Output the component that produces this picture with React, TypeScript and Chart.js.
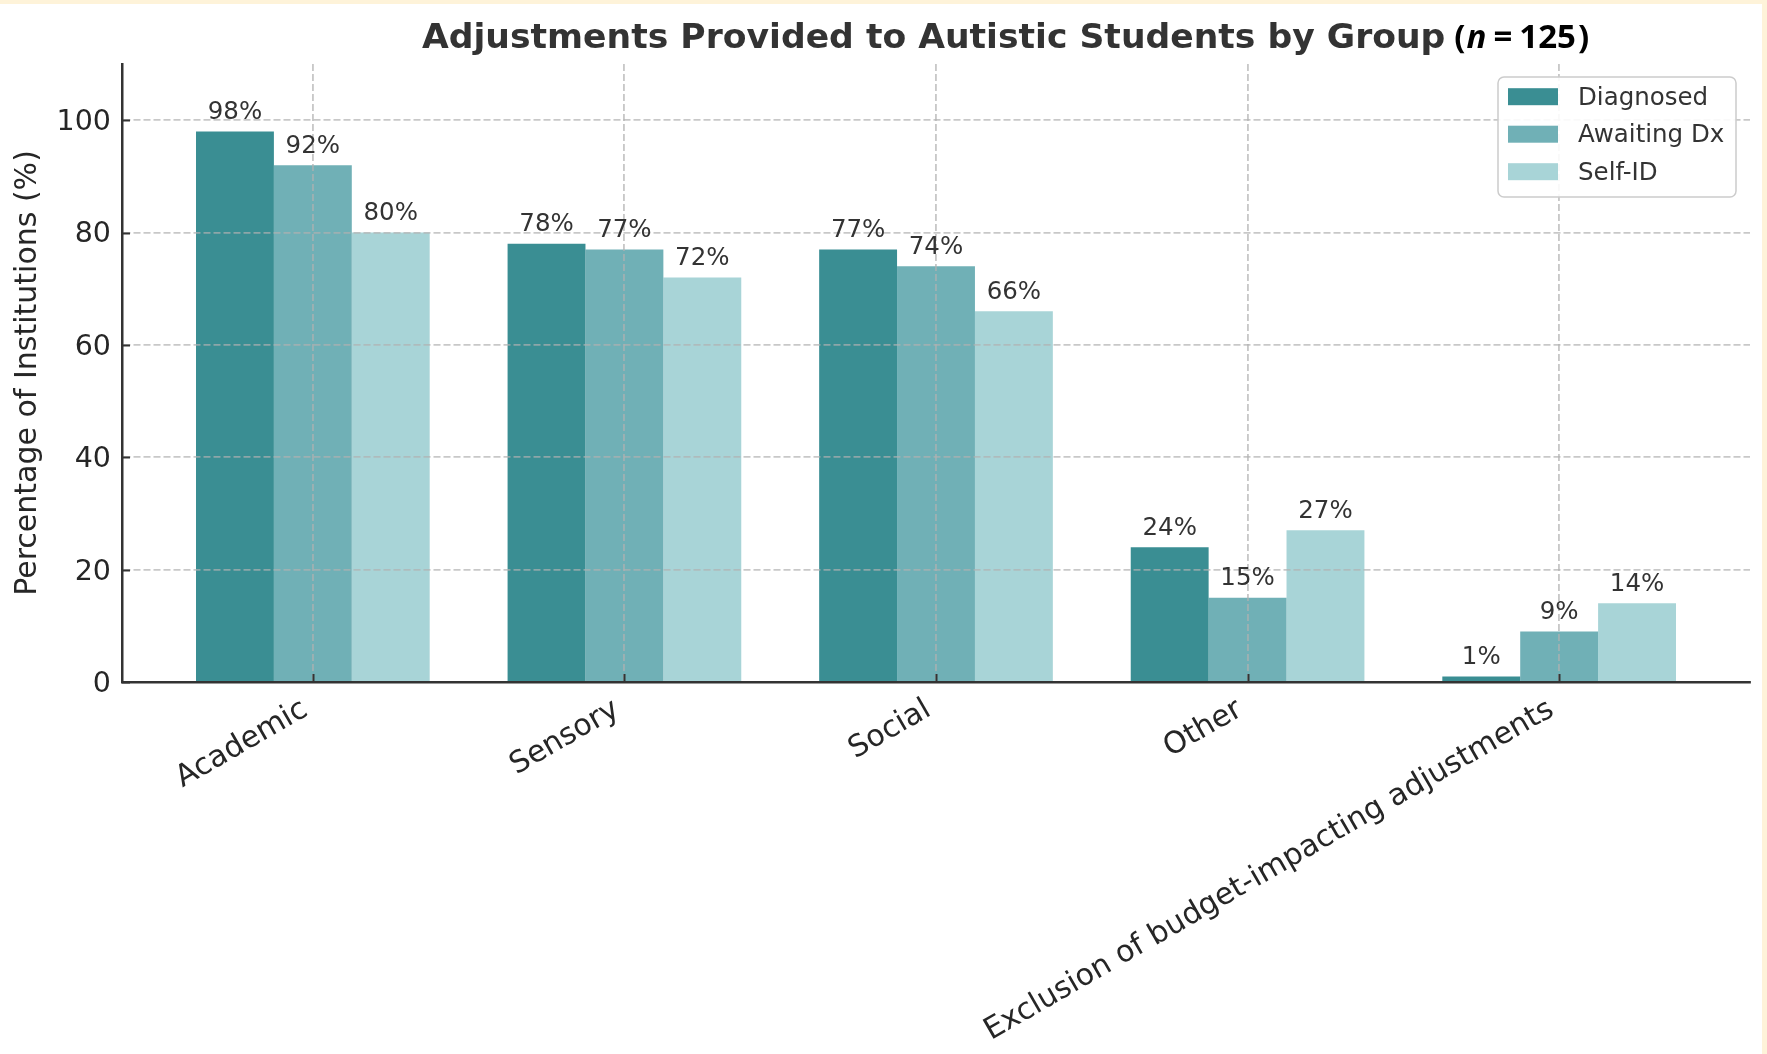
import React, { useEffect, useRef } from "react";
import { Chart, registerables } from "chart.js";

Chart.register(...registerables);

const CATEGORIES = ["Academic", "Sensory", "Social", "Other", "Exclusion of budget-impacting adjustments"];
const SERIES_NAMES = ["Diagnosed", "Awaiting Dx", "Self-ID"];
const DIAGNOSED = [98, 78, 77, 24, 1];
const AWAITING_DX = [92, 77, 74, 15, 9];
const SELF_ID = [80, 72, 66, 27, 14];
const SERIES_COLORS = ["#3A8E93", "#70B0B6", "#A8D4D7"];
const Y_TICKS = [0, 20, 40, 60, 80, 100];
const Y_MAX = 110;
const X_MIN = -0.6125;
const X_MAX = 4.6125;
const TITLE = "Adjustments Provided to Autistic Students by Group";
const N_VALUE = 125;
const Y_TITLE = "Percentage of Institutions (%)";

const FONT = '"DejaVu Sans", "Liberation Sans", sans-serif';
const TEXT_COLOR = "#262626";
const GRID_COLOR = "rgba(176,176,176,0.7)";

const overlayPlugin = {
  id: "overlay",
  afterDraw(chart: any) {
    const ctx: CanvasRenderingContext2D = chart.ctx;
    const { left, bottom } = chart.chartArea;
    const xs = chart.scales.x;
    const ys = chart.scales.y;
    ctx.save();

    // inward tick marks
    ctx.strokeStyle = "#333";
    ctx.lineWidth = 2;
    CATEGORIES.forEach((_, i) => {
      const px = Math.round(xs.getPixelForValue(i)) + 0.5;
      ctx.beginPath();
      ctx.moveTo(px, bottom);
      ctx.lineTo(px, bottom - 8);
      ctx.stroke();
    });
    Y_TICKS.forEach((v) => {
      const py = Math.round(ys.getPixelForValue(v)) + 0.5;
      ctx.beginPath();
      ctx.moveTo(left, py);
      ctx.lineTo(left + 8, py);
      ctx.stroke();
    });

    // value labels
    ctx.font = `24.5px ${FONT}`;
    ctx.fillStyle = "#333";
    ctx.textAlign = "center";
    ctx.textBaseline = "alphabetic";
    chart.data.datasets.forEach((ds: any, di: number) => {
      const meta = chart.getDatasetMeta(di);
      meta.data.forEach((bar: any, i: number) => {
        const v = ds.data[i].y;
        ctx.fillText(`${v}%`, bar.x, bar.y - 12.5);
      });
    });

    // legend
    const lx = 1498, ly = 73, lw = 238, lh = 120;
    ctx.beginPath();
    if ((ctx as any).roundRect) {
      (ctx as any).roundRect(lx, ly, lw, lh, 6);
    } else {
      ctx.rect(lx, ly, lw, lh);
    }
    ctx.fillStyle = "rgba(255,255,255,0.9)";
    ctx.fill();
    ctx.strokeStyle = "#cccccc";
    ctx.lineWidth = 1.5;
    ctx.stroke();
    ctx.font = `24.5px ${FONT}`;
    ctx.textAlign = "left";
    ctx.textBaseline = "middle";
    SERIES_NAMES.forEach((name, i) => {
      const cy = 92.7 + i * 37.5;
      ctx.fillStyle = SERIES_COLORS[i];
      ctx.fillRect(1508, cy - 8.5, 50, 17);
      ctx.fillStyle = "#333";
      ctx.fillText(name, 1578, cy + 1.5);
    });

    // title
    ctx.textAlign = "left";
    ctx.textBaseline = "alphabetic";
    ctx.font = `bold 34.6px ${FONT}`;
    ctx.fillStyle = "#333";
    const tx0 = 422, ty = 44;
    ctx.fillText(TITLE, tx0, ty);
    let tx = tx0 + ctx.measureText(TITLE).width + 9;
    const sfx = '"Open Sans", "Noto Sans", sans-serif';
    const parts = [
      { t: "(", f: `bold 33px ${sfx}`, gap: 0 },
      { t: "n", f: `italic bold 33px ${sfx}`, gap: 1 },
      { t: "=", f: `bold 33px ${sfx}`, gap: 7 },
      { t: String(N_VALUE), f: `bold 33px ${sfx}`, gap: 7 },
      { t: ")", f: `bold 33px ${sfx}`, gap: 2 },
    ];
    ctx.fillStyle = "#000";
    parts.forEach((p) => {
      tx += p.gap;
      ctx.font = p.f;
      ctx.fillText(p.t, tx, ty);
      tx += ctx.measureText(p.t).width;
    });

    ctx.restore();
  },
};

export default function App() {
  const ref = useRef<HTMLCanvasElement>(null);

  useEffect(() => {
    document.body.style.margin = "0";
    const canvas = ref.current;
    if (!canvas) return;
    const seriesValues = [DIAGNOSED, AWAITING_DX, SELF_ID];
    const chart = new Chart(canvas, {
      type: "bar",
      data: {
        datasets: SERIES_NAMES.map((name, si) => ({
          label: name,
          data: seriesValues[si].map((y, i) => ({ x: i, y })),
          backgroundColor: SERIES_COLORS[si],
          borderWidth: 0,
          categoryPercentage: 0.75,
          barPercentage: 1.0,
        })),
      },
      options: {
        responsive: false,
        devicePixelRatio: 1,
        animation: false,
        layout: { padding: { top: 60, right: 12, left: 0, bottom: 0 } },
        plugins: {
          legend: { display: false },
          title: { display: false },
          tooltip: { enabled: false },
        },
        scales: {
          x: {
            type: "linear",
            min: X_MIN,
            max: X_MAX,
            offset: false,
            afterBuildTicks: (s: any) => {
              s.ticks = CATEGORIES.map((_, i) => ({ value: i }));
            },
            afterFit: (s: any) => {
              s.height = 372;
            },
            ticks: {
              autoSkip: false,
              minRotation: 30,
              maxRotation: 30,
              padding: 10,
              labelOffset: -7.5,
              color: TEXT_COLOR,
              font: { family: FONT, size: 30 },
              callback: (v: any) => CATEGORIES[Math.round(Number(v))] ?? "",
            },
            grid: {
              display: true,
              offset: false,
              color: GRID_COLOR,
              lineWidth: 1.87,
              drawTicks: false,
              z: 1,
            },
            border: { display: true, color: "#333", width: 2.5, dash: [7, 3], z: 2 },
          },
          y: {
            type: "linear",
            min: 0,
            max: Y_MAX,
            afterBuildTicks: (s: any) => {
              s.ticks = Y_TICKS.map((v) => ({ value: v }));
            },
            afterFit: (s: any) => {
              s.width = 122;
            },
            ticks: {
              padding: 11,
              labelOffset: 2.5,
              color: TEXT_COLOR,
              font: { family: FONT, size: 28.5 },
              callback: (v: any) => String(v),
            },
            grid: {
              color: (c: any) => (c.tick && c.tick.value === 0 ? "rgba(0,0,0,0)" : GRID_COLOR),
              lineWidth: 1.87,
              drawTicks: false,
              z: 1,
            },
            border: { display: true, color: "#333", width: 2.5, dash: [7, 3], z: 2 },
            title: {
              display: true,
              text: Y_TITLE,
              color: TEXT_COLOR,
              font: { family: FONT, size: 30 },
              padding: { top: 10, bottom: 0 },
            },
          },
        },
      },
      plugins: [overlayPlugin],
    } as any);
    return () => chart.destroy();
  }, []);

  return (
    <div style={{ position: "relative", width: 1767, height: 1054, background: "#FEF3D9", overflow: "hidden" }}>
      <div style={{ position: "absolute", left: 0, top: 4, width: 1762, height: 1050, background: "#ffffff" }}>
        <canvas ref={ref} width={1762} height={1050} style={{ display: "block", width: 1762, height: 1050 }} />
      </div>
    </div>
  );
}
